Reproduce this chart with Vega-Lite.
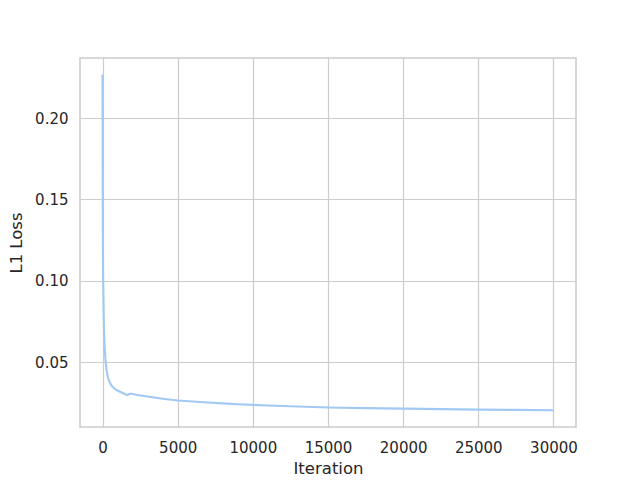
{
  "$schema": "https://vega.github.io/schema/vega-lite/v6.json",
  "width": 496,
  "height": 369,
  "autosize": {"type": "none"},
  "padding": {"left": 80, "top": 58, "right": 64, "bottom": 53},
  "background": "white",
  "config": {
    "font": "DejaVu Sans",
    "view": {"stroke": "#cccccc", "strokeWidth": 1.6},
    "axis": {
      "domain": false,
      "ticks": false,
      "grid": true,
      "gridColor": "#cccccc",
      "gridWidth": 1.2,
      "labelFont": "DejaVu Sans",
      "labelFontSize": 15,
      "labelColor": "#262626",
      "titleFont": "DejaVu Sans",
      "titleFontSize": 16.5,
      "titleFontWeight": "normal",
      "titleColor": "#262626"
    }
  },
  "data": {
    "values": [
      {"iteration": 0, "loss": 0.2266},
      {"iteration": 10, "loss": 0.17},
      {"iteration": 20, "loss": 0.13},
      {"iteration": 40, "loss": 0.10},
      {"iteration": 60, "loss": 0.088},
      {"iteration": 100, "loss": 0.068},
      {"iteration": 150, "loss": 0.057},
      {"iteration": 200, "loss": 0.051},
      {"iteration": 270, "loss": 0.045},
      {"iteration": 350, "loss": 0.041},
      {"iteration": 450, "loss": 0.038},
      {"iteration": 600, "loss": 0.0355},
      {"iteration": 800, "loss": 0.0337},
      {"iteration": 1000, "loss": 0.0325},
      {"iteration": 1200, "loss": 0.0316},
      {"iteration": 1450, "loss": 0.0305},
      {"iteration": 1650, "loss": 0.0297},
      {"iteration": 1800, "loss": 0.0305},
      {"iteration": 1950, "loss": 0.0305},
      {"iteration": 2300, "loss": 0.0298},
      {"iteration": 3000, "loss": 0.0288},
      {"iteration": 4000, "loss": 0.0275},
      {"iteration": 5000, "loss": 0.0264},
      {"iteration": 6000, "loss": 0.0258},
      {"iteration": 7000, "loss": 0.0252},
      {"iteration": 8000, "loss": 0.0246},
      {"iteration": 9000, "loss": 0.0241},
      {"iteration": 10000, "loss": 0.0237},
      {"iteration": 11000, "loss": 0.0233},
      {"iteration": 12000, "loss": 0.0230},
      {"iteration": 13000, "loss": 0.0227},
      {"iteration": 14000, "loss": 0.0224},
      {"iteration": 15000, "loss": 0.0221},
      {"iteration": 17500, "loss": 0.0217},
      {"iteration": 20000, "loss": 0.0214},
      {"iteration": 22500, "loss": 0.0211},
      {"iteration": 25000, "loss": 0.0208},
      {"iteration": 27500, "loss": 0.0206},
      {"iteration": 30000, "loss": 0.0204}
    ]
  },
  "mark": {"type": "line", "color": "#a1c9f4", "strokeWidth": 2.1, "clip": true},
  "encoding": {
    "x": {
      "field": "iteration",
      "type": "quantitative",
      "title": "Iteration",
      "scale": {"domain": [-1500, 31500], "nice": false, "zero": false},
      "axis": {"values": [0, 5000, 10000, 15000, 20000, 25000, 30000], "format": "d", "labelPadding": 13, "titlePadding": 5}
    },
    "y": {
      "field": "loss",
      "type": "quantitative",
      "title": "L1 Loss",
      "scale": {"domain": [0.0101, 0.2369], "nice": false, "zero": false},
      "axis": {"values": [0.05, 0.10, 0.15, 0.20], "format": ".2f", "labelPadding": 12, "titlePadding": 10}
    }
  }
}
